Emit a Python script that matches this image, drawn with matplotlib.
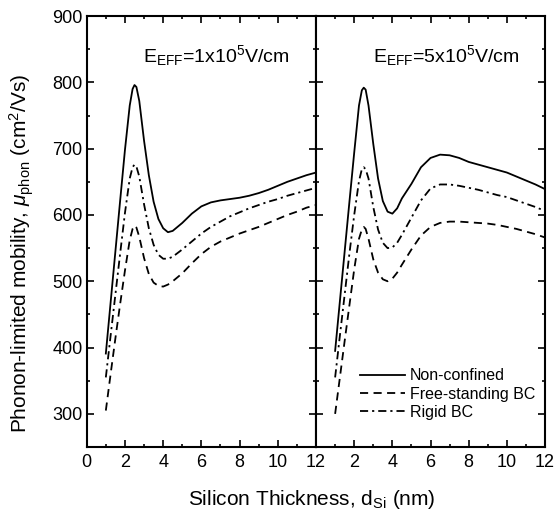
import matplotlib
matplotlib.use("Agg")
import matplotlib.pyplot as plt
from matplotlib.ticker import MultipleLocator

plt.rcParams['font.family'] = ['Liberation Sans', 'DejaVu Sans']
plt.rcParams['mathtext.fontset'] = 'custom'
plt.rcParams['mathtext.rm'] = 'Liberation Sans'
plt.rcParams['mathtext.it'] = 'Liberation Sans:italic'

# silicon thickness (nm)
d_si = [1, 1.25, 1.5, 1.75, 2, 2.25, 2.4, 2.5, 2.6, 2.75, 3, 3.25, 3.5, 3.75, 4, 4.25,
        4.5, 5, 5.5, 6, 6.5, 7, 7.5, 8, 8.5, 9, 9.5, 10, 10.5, 11, 11.5, 12]

# E_eff = 1e5 V/cm
low_nonconf = [391, 468, 545, 622, 698, 765, 790, 796, 793, 772, 712, 660, 620, 594, 580, 574,
               576, 588, 602, 613, 619, 622, 624, 626, 629, 633, 638, 644, 650, 655, 660, 664]
low_rigid = [355, 418, 480, 542, 603, 655, 672, 676, 673, 658, 616, 580, 555, 540, 534, 534,
             537, 548, 560, 572, 582, 590, 598, 604, 610, 615, 620, 624, 629, 633, 637, 641]
low_free = [305, 360, 414, 466, 516, 562, 579, 584, 581, 567, 535, 511, 498, 493, 492, 495,
            500, 512, 527, 541, 552, 560, 566, 572, 577, 582, 588, 594, 600, 605, 611, 615]

# E_eff = 5e5 V/cm
high_nonconf = [395, 470, 545, 620, 694, 765, 788, 792, 789, 765, 707, 655, 621, 605, 602, 610,
                625, 647, 672, 686, 691, 690, 686, 680, 676, 672, 668, 664, 658, 652, 646, 639]
high_rigid = [355, 418, 480, 542, 600, 651, 669, 672, 669, 655, 612, 578, 558, 550, 551, 558,
              570, 596, 622, 640, 646, 646, 644, 641, 638, 634, 630, 627, 622, 617, 612, 606]
high_free = [300, 355, 410, 464, 518, 564, 578, 582, 579, 564, 533, 513, 503, 500, 504, 513,
             525, 548, 569, 582, 588, 590, 590, 589, 588, 587, 585, 582, 579, 575, 571, 566]

fig = plt.figure(figsize=(5.57, 5.18), dpi=100)
ax1 = fig.add_axes([0.1557, 0.137, 0.4117, 0.832])
ax2 = fig.add_axes([0.5674, 0.137, 0.4111, 0.832])

lw = 1.3
dash = (0, (4.5, 3))
dashdot = (0, (4.5, 2.2, 1.2, 2.2))

for ax, nc, fr, rg in [(ax1, low_nonconf, low_free, low_rigid),
                       (ax2, high_nonconf, high_free, high_rigid)]:
    ax.plot(d_si, nc, color='black', lw=lw, ls='-', label='Non-confined')
    ax.plot(d_si, fr, color='black', lw=lw, ls=dash, label='Free-standing BC')
    ax.plot(d_si, rg, color='black', lw=lw, ls=dashdot, label='Rigid BC')
    ax.set_xlim(0, 12)
    ax.set_ylim(250, 900)
    ax.xaxis.set_major_locator(MultipleLocator(2))
    ax.xaxis.set_minor_locator(MultipleLocator(1))
    ax.yaxis.set_major_locator(MultipleLocator(100))
    ax.yaxis.set_minor_locator(MultipleLocator(50))
    ax.tick_params(which='both', direction='in', top=True, right=True, labelsize=13, width=1.2)
    ax.tick_params(which='major', length=5, pad=5)
    ax.tick_params(axis='y', which='major', pad=3)
    ax.tick_params(which='minor', length=2.5)
    for s in ax.spines.values():
        s.set_linewidth(1.5)

ax2.set_yticklabels([])
ax2.set_xticks([2, 4, 6, 8, 10, 12])
ax2.set_xticks([0, 1, 3, 5, 7, 9, 11], minor=True)

ax1.text(0.245, 0.893, r'E$_{\mathregular{EFF}}$=1x10$^{\mathregular{5}}$V/cm',
         transform=ax1.transAxes, fontsize=14)
ax2.text(0.25, 0.893, r'E$_{\mathregular{EFF}}$=5x10$^{\mathregular{5}}$V/cm',
         transform=ax2.transAxes, fontsize=14)

ax2.legend(loc='lower right', frameon=False, fontsize=11.5, handlelength=2.8,
           handletextpad=0.3, labelspacing=0.2, bbox_to_anchor=(1.02, 0.03))

fig.text(0.04, 0.51, r'Phonon-limited mobility, $\mu_{\mathregular{phon}}$ (cm$^{\mathregular{2}}$/Vs)',
         rotation=90, ha='center', va='center', fontsize=15)
fig.text(0.56, 0.035, r'Silicon Thickness, d$_{\mathregular{Si}}$ (nm)',
         ha='center', va='center', fontsize=15)

fig.savefig('out.png', dpi=100)
